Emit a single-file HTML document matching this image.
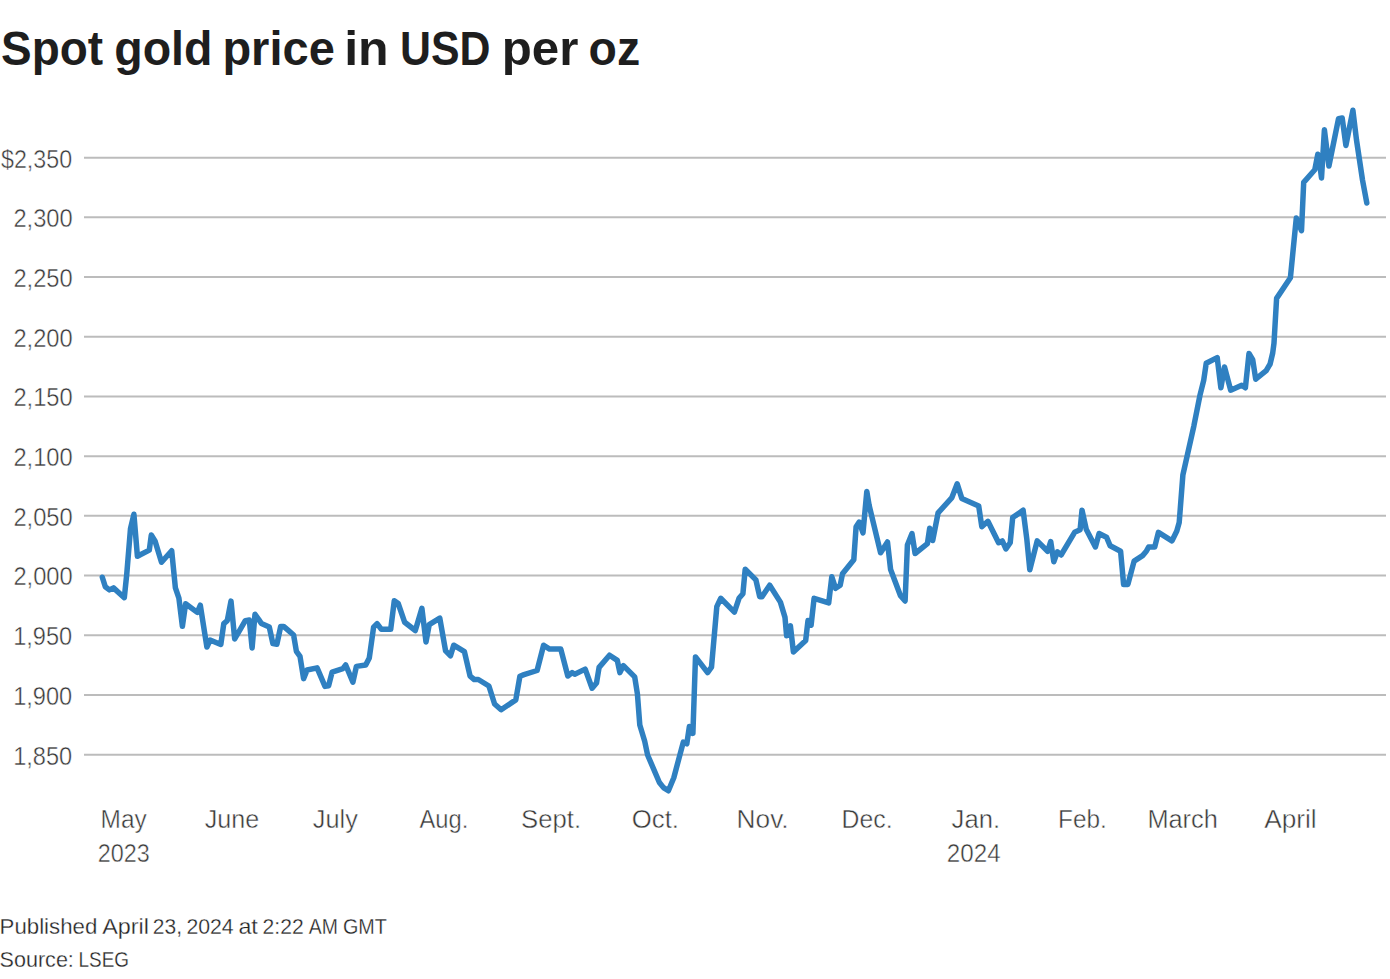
<!DOCTYPE html>
<html><head><meta charset="utf-8"><style>
html,body{margin:0;padding:0;background:#fff;}
body{width:1390px;height:979px;overflow:hidden;}
svg{display:block;font-family:"Liberation Sans",sans-serif;}
</style></head><body>
<svg width="1390" height="979" viewBox="0 0 1390 979">
<rect width="1390" height="979" fill="#fff"/>
<g stroke="#bcbcbc" stroke-width="2">
<line x1="84" y1="157.66" x2="1386" y2="157.66"/>
<line x1="84" y1="217.36" x2="1386" y2="217.36"/>
<line x1="84" y1="277.06" x2="1386" y2="277.06"/>
<line x1="84" y1="336.76" x2="1386" y2="336.76"/>
<line x1="84" y1="396.46" x2="1386" y2="396.46"/>
<line x1="84" y1="456.16" x2="1386" y2="456.16"/>
<line x1="84" y1="515.86" x2="1386" y2="515.86"/>
<line x1="84" y1="575.56" x2="1386" y2="575.56"/>
<line x1="84" y1="635.26" x2="1386" y2="635.26"/>
<line x1="84" y1="694.96" x2="1386" y2="694.96"/>
<line x1="84" y1="754.66" x2="1386" y2="754.66"/>
</g>
<path d="M102.3,577.2 L105.3,586.8 L109.4,589.9 L113.5,587.9 L124.3,597.7 L126.8,573.6 L130.5,528.6 L133.9,514.3 L137.4,556.2 L149.3,550.1 L151.3,535.1 L155.0,540.9 L161.5,562.3 L171.7,550.7 L175.4,587.9 L178.9,598.1 L182.4,626.3 L185.6,603.8 L197.3,612.4 L200.3,605.2 L206.9,647.1 L210.1,640.0 L220.8,644.5 L223.8,623.6 L227.3,620.6 L231.0,601.1 L234.7,639.0 L245.3,620.6 L249.3,620.0 L252.1,647.9 L255.0,614.3 L258.6,619.3 L261.4,623.6 L269.3,627.1 L272.9,643.6 L276.9,644.3 L280.7,626.4 L283.6,626.4 L288.6,630.7 L293.6,635.0 L296.4,651.4 L300.0,656.4 L303.6,678.6 L307.1,670.0 L317.1,667.9 L325.0,686.4 L328.6,685.7 L332.1,672.1 L342.9,668.6 L345.7,665.0 L352.9,682.1 L356.4,666.4 L365.7,665.0 L369.3,657.9 L373.6,627.1 L377.1,623.6 L381.4,629.3 L390.7,629.3 L394.3,600.7 L398.2,603.5 L404.7,622.3 L415.3,630.5 L421.9,608.4 L426.0,641.9 L429.2,624.7 L439.8,618.2 L445.6,650.9 L450.5,655.8 L453.7,645.2 L464.4,651.7 L470.1,676.2 L474.2,679.5 L478.3,679.5 L488.9,686.0 L494.6,704.0 L501.1,709.7 L515.8,699.9 L519.9,676.2 L524.0,674.6 L537.1,670.5 L543.6,645.2 L549.6,649.1 L560.8,649.1 L567.8,676.0 L572.1,672.6 L574.7,674.3 L585.2,669.1 L592.1,688.2 L596.5,683.0 L599.1,667.4 L609.5,655.2 L617.3,660.4 L619.9,672.6 L623.4,665.6 L634.7,676.9 L637.4,693.9 L639.8,725.0 L644.7,741.3 L647.6,755.0 L659.4,782.5 L663.5,787.6 L668.4,790.8 L673.8,777.7 L683.3,742.1 L686.8,743.8 L689.4,726.4 L692.9,733.4 L695.5,656.9 L707.6,672.6 L711.5,667.2 L716.8,606.7 L720.7,598.3 L734.4,612.1 L739.0,598.3 L742.9,593.7 L745.2,569.2 L755.9,579.9 L759.7,596.7 L762.0,596.7 L769.7,585.2 L780.4,602.1 L785.0,617.4 L786.6,635.8 L790.4,625.9 L793.4,651.9 L805.7,640.4 L808.0,620.5 L811.1,625.1 L814.1,598.3 L828.7,602.9 L831.8,576.8 L835.6,588.3 L840.2,585.2 L842.5,573.8 L853.8,559.7 L856.1,526.7 L859.2,522.1 L863.0,532.8 L866.8,491.5 L869.1,505.2 L880.6,552.8 L887.5,542.0 L890.6,569.6 L900.5,595.7 L905.1,601.0 L907.4,545.1 L912.0,533.6 L915.1,553.5 L927.4,543.6 L929.7,528.2 L932.7,540.5 L938.1,512.9 L951.9,497.6 L957.2,483.8 L961.8,498.4 L978.7,506.0 L981.8,526.7 L987.9,521.3 L998.6,542.7 L1002.3,540.9 L1005.9,548.9 L1010.2,542.7 L1012.7,517.6 L1023.1,510.2 L1026.8,539.0 L1029.8,569.7 L1037.2,540.9 L1047.6,551.3 L1050.7,541.5 L1053.8,561.7 L1057.4,551.9 L1061.1,555.0 L1074.6,532.3 L1080.1,529.8 L1082.0,510.2 L1086.2,529.2 L1095.4,547.0 L1099.1,533.5 L1106.5,537.2 L1110.2,545.8 L1120.6,551.3 L1123.6,584.4 L1127.9,584.4 L1134.1,561.1 L1142.6,555.6 L1146.3,551.3 L1148.6,547.1 L1154.7,547.1 L1158.4,532.4 L1171.9,540.9 L1176.8,531.1 L1179.2,522.6 L1182.9,474.8 L1193.9,425.8 L1200.0,395.1 L1203.7,380.4 L1206.2,363.3 L1217.2,357.6 L1220.9,387.8 L1224.5,367.0 L1230.7,390.2 L1241.7,385.3 L1245.4,387.8 L1249.0,353.5 L1252.7,359.6 L1255.7,379.2 L1266.2,370.6 L1270.1,364.0 L1272.7,353.0 L1274.0,343.2 L1276.6,298.4 L1290.4,277.7 L1296.3,218.0 L1301.5,230.6 L1303.7,182.4 L1314.8,169.8 L1317.8,154.3 L1320.0,166.1 L1321.5,178.0 L1324.4,129.8 L1328.9,166.1 L1338.5,118.7 L1342.2,118.0 L1345.9,145.4 L1352.9,110.3 L1356.5,140.0 L1359.5,160.0 L1362.5,180.0 L1366.8,203.0" fill="none" stroke="#2f80c1" stroke-width="5.5" stroke-linejoin="round" stroke-linecap="round"/>
<text x="1.00" y="64.60" font-size="48.3" font-weight="bold" fill="#1e1e1e" textLength="102.05" lengthAdjust="spacingAndGlyphs">Spot</text>
<text x="114.20" y="64.60" font-size="48.3" font-weight="bold" fill="#1e1e1e" textLength="98.26" lengthAdjust="spacingAndGlyphs">gold</text>
<text x="222.40" y="64.60" font-size="48.3" font-weight="bold" fill="#1e1e1e" textLength="112.43" lengthAdjust="spacingAndGlyphs">price</text>
<text x="344.20" y="64.60" font-size="48.3" font-weight="bold" fill="#1e1e1e" textLength="44.49" lengthAdjust="spacingAndGlyphs">in</text>
<text x="400.00" y="64.60" font-size="48.3" font-weight="bold" fill="#1e1e1e" textLength="90.53" lengthAdjust="spacingAndGlyphs">USD</text>
<text x="501.80" y="64.60" font-size="48.3" font-weight="bold" fill="#1e1e1e" textLength="76.64" lengthAdjust="spacingAndGlyphs">per</text>
<text x="588.60" y="64.60" font-size="48.3" font-weight="bold" fill="#1e1e1e" textLength="51.57" lengthAdjust="spacingAndGlyphs">oz</text>
<text x="1.00" y="167.56" font-size="25.3" fill="#383838" stroke="#fff" stroke-width="0.45" textLength="71.09" lengthAdjust="spacingAndGlyphs">$2,350</text>
<text x="13.40" y="227.26" font-size="25.3" fill="#383838" stroke="#fff" stroke-width="0.45" textLength="59.27" lengthAdjust="spacingAndGlyphs">2,300</text>
<text x="13.40" y="286.96" font-size="25.3" fill="#383838" stroke="#fff" stroke-width="0.45" textLength="59.27" lengthAdjust="spacingAndGlyphs">2,250</text>
<text x="13.40" y="346.66" font-size="25.3" fill="#383838" stroke="#fff" stroke-width="0.45" textLength="59.27" lengthAdjust="spacingAndGlyphs">2,200</text>
<text x="13.40" y="406.36" font-size="25.3" fill="#383838" stroke="#fff" stroke-width="0.45" textLength="59.27" lengthAdjust="spacingAndGlyphs">2,150</text>
<text x="13.40" y="466.06" font-size="25.3" fill="#383838" stroke="#fff" stroke-width="0.45" textLength="59.27" lengthAdjust="spacingAndGlyphs">2,100</text>
<text x="13.40" y="525.76" font-size="25.3" fill="#383838" stroke="#fff" stroke-width="0.45" textLength="59.27" lengthAdjust="spacingAndGlyphs">2,050</text>
<text x="13.40" y="585.46" font-size="25.3" fill="#383838" stroke="#fff" stroke-width="0.45" textLength="59.27" lengthAdjust="spacingAndGlyphs">2,000</text>
<text x="13.20" y="645.16" font-size="25.3" fill="#383838" stroke="#fff" stroke-width="0.45" textLength="59.04" lengthAdjust="spacingAndGlyphs">1,950</text>
<text x="13.20" y="704.86" font-size="25.3" fill="#383838" stroke="#fff" stroke-width="0.45" textLength="59.04" lengthAdjust="spacingAndGlyphs">1,900</text>
<text x="13.20" y="764.56" font-size="25.3" fill="#383838" stroke="#fff" stroke-width="0.45" textLength="59.04" lengthAdjust="spacingAndGlyphs">1,850</text>
<text x="100.60" y="828.10" font-size="25.3" fill="#383838" stroke="#fff" stroke-width="0.45" textLength="46.10" lengthAdjust="spacingAndGlyphs">May</text>
<text x="204.80" y="828.10" font-size="25.3" fill="#383838" stroke="#fff" stroke-width="0.45" textLength="54.46" lengthAdjust="spacingAndGlyphs">June</text>
<text x="312.80" y="828.10" font-size="25.3" fill="#383838" stroke="#fff" stroke-width="0.45" textLength="45.02" lengthAdjust="spacingAndGlyphs">July</text>
<text x="419.40" y="828.10" font-size="25.3" fill="#383838" stroke="#fff" stroke-width="0.45" textLength="48.86" lengthAdjust="spacingAndGlyphs">Aug.</text>
<text x="521.00" y="828.10" font-size="25.3" fill="#383838" stroke="#fff" stroke-width="0.45" textLength="60.05" lengthAdjust="spacingAndGlyphs">Sept.</text>
<text x="631.80" y="828.10" font-size="25.3" fill="#383838" stroke="#fff" stroke-width="0.45" textLength="47.16" lengthAdjust="spacingAndGlyphs">Oct.</text>
<text x="736.60" y="828.10" font-size="25.3" fill="#383838" stroke="#fff" stroke-width="0.45" textLength="52.06" lengthAdjust="spacingAndGlyphs">Nov.</text>
<text x="841.60" y="828.10" font-size="25.3" fill="#383838" stroke="#fff" stroke-width="0.45" textLength="50.96" lengthAdjust="spacingAndGlyphs">Dec.</text>
<text x="951.60" y="828.10" font-size="25.3" fill="#383838" stroke="#fff" stroke-width="0.45" textLength="48.49" lengthAdjust="spacingAndGlyphs">Jan.</text>
<text x="1058.00" y="828.10" font-size="25.3" fill="#383838" stroke="#fff" stroke-width="0.45" textLength="48.75" lengthAdjust="spacingAndGlyphs">Feb.</text>
<text x="1147.40" y="828.10" font-size="25.3" fill="#383838" stroke="#fff" stroke-width="0.45" textLength="70.44" lengthAdjust="spacingAndGlyphs">March</text>
<text x="1264.20" y="828.10" font-size="25.3" fill="#383838" stroke="#fff" stroke-width="0.45" textLength="52.42" lengthAdjust="spacingAndGlyphs">April</text>
<text x="97.80" y="861.70" font-size="25.3" fill="#383838" stroke="#fff" stroke-width="0.45" textLength="52.02" lengthAdjust="spacingAndGlyphs">2023</text>
<text x="946.80" y="861.70" font-size="25.3" fill="#383838" stroke="#fff" stroke-width="0.45" textLength="53.78" lengthAdjust="spacingAndGlyphs">2024</text>
<text x="-0.40" y="933.80" font-size="22" fill="#222" stroke="#fff" stroke-width="0.3" textLength="97.68" lengthAdjust="spacingAndGlyphs">Published</text>
<text x="102.20" y="933.80" font-size="22" fill="#222" stroke="#fff" stroke-width="0.3" textLength="46.74" lengthAdjust="spacingAndGlyphs">April</text>
<text x="152.80" y="933.80" font-size="22" fill="#222" stroke="#fff" stroke-width="0.3" textLength="29.17" lengthAdjust="spacingAndGlyphs">23,</text>
<text x="186.40" y="933.80" font-size="22" fill="#222" stroke="#fff" stroke-width="0.3" textLength="47.29" lengthAdjust="spacingAndGlyphs">2024</text>
<text x="238.40" y="933.80" font-size="22" fill="#222" stroke="#fff" stroke-width="0.3" textLength="19.42" lengthAdjust="spacingAndGlyphs">at</text>
<text x="262.60" y="933.80" font-size="22" fill="#222" stroke="#fff" stroke-width="0.3" textLength="41.12" lengthAdjust="spacingAndGlyphs">2:22</text>
<text x="308.80" y="933.80" font-size="22" fill="#222" stroke="#fff" stroke-width="0.3" textLength="29.09" lengthAdjust="spacingAndGlyphs">AM</text>
<text x="343.00" y="933.80" font-size="22" fill="#222" stroke="#fff" stroke-width="0.3" textLength="43.90" lengthAdjust="spacingAndGlyphs">GMT</text>
<text x="-0.40" y="966.90" font-size="22" fill="#222" stroke="#fff" stroke-width="0.3" textLength="74.25" lengthAdjust="spacingAndGlyphs">Source:</text>
<text x="78.60" y="966.90" font-size="22" fill="#222" stroke="#fff" stroke-width="0.3" textLength="50.38" lengthAdjust="spacingAndGlyphs">LSEG</text>
</svg>
</body></html>
